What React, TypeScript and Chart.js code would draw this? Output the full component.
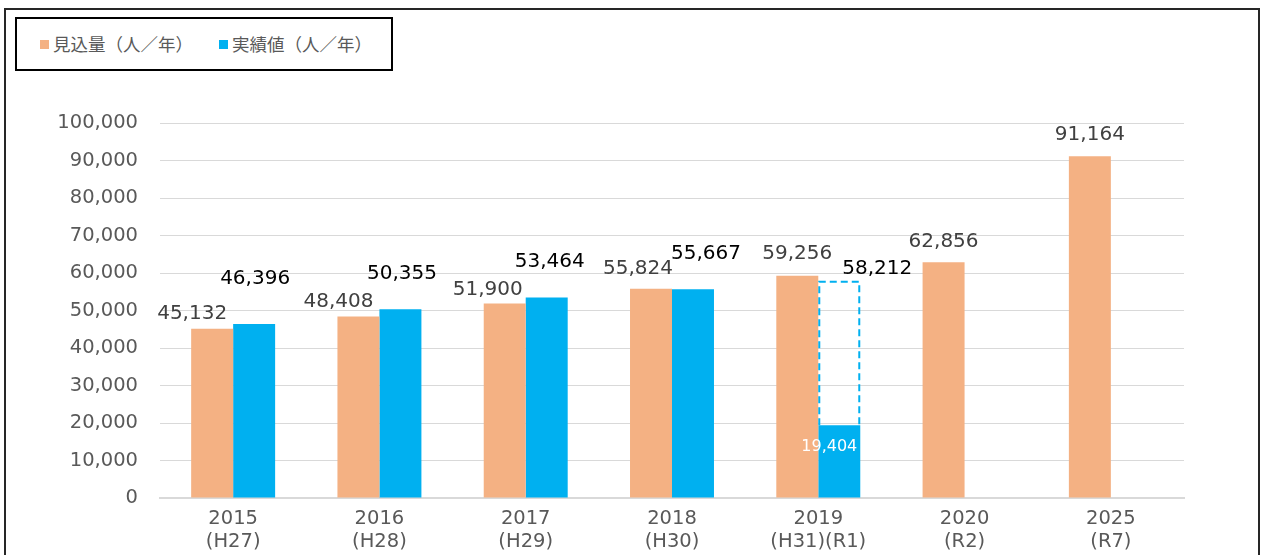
import React, { useEffect, useRef } from 'react';
import { Chart, registerables } from 'chart.js';

Chart.register(...registerables);

// ---- data ----
const yearLabels = ['2015', '2016', '2017', '2018', '2019', '2020', '2025'];
const eraLabels = ['(H27)', '(H28)', '(H29)', '(H30)', '(H31)(R1)', '(R2)', '(R7)'];
const seriesNames = ['見込量（人／年）', '実績値（人／年）'];
const plannedValues = [45132, 48408, 51900, 55824, 59256, 62856, 91164];
const actualValues: (number | null)[] = [46396, 50355, 53464, 55667, 19404, null, null];
const projectedIndex = 4; // 2019: full-year projection shown as dashed outline
const projectedValue = 58212;
const yMax = 100000;
const yStep = 10000;

// ---- styling / label placement (px) ----
const ORANGE = '#F4B183';
const BLUE = '#00B0F0';
const GRID = '#D9D9D9';
const TICK = '#595959';
const FONT = '"DejaVu Sans", "Noto Sans CJK JP", sans-serif';
const plannedNudge: [number, number][] = [
  [-20, -15], [-20, -15], [-17, -14], [-13, -20], [0, -22], [0, -20], [0, -21],
];
const actualNudge: ([number, number] | null)[] = [
  [1, -45], [1.5, -35], [3, -35.5], [13, -35], [-10, 22], null, null,
];
const projectedNudge: [number, number] = [38, -11];

const fmt = (v: number) => v.toLocaleString('en-US');

const overlayPlugin = {
  id: 'overlay',
  afterDatasetsDraw(chart: any) {
    const ctx: CanvasRenderingContext2D = chart.ctx;
    const yScale = chart.scales.y;
    const m0 = chart.getDatasetMeta(0);
    const m1 = chart.getDatasetMeta(1);
    ctx.save();

    // dashed outline for projected value
    const pe = m1.data[projectedIndex];
    if (pe) {
      const half = pe.width / 2;
      const l = pe.x - half + 1;
      const r = pe.x + half - 1;
      const t = yScale.getPixelForValue(projectedValue) + 2;
      const b = pe.y;
      ctx.strokeStyle = BLUE;
      ctx.lineWidth = 2;
      ctx.setLineDash([7, 4]);
      ctx.beginPath();
      ctx.moveTo(l, b);
      ctx.lineTo(l, t);
      ctx.lineTo(r, t);
      ctx.lineTo(r, b);
      ctx.stroke();
      ctx.setLineDash([]);
    }

    ctx.textAlign = 'center';
    ctx.textBaseline = 'middle';

    // planned labels
    ctx.font = `20px ${FONT}`;
    ctx.fillStyle = '#404040';
    m0.data.forEach((el: any, i: number) => {
      const v = plannedValues[i];
      if (v == null) return;
      const [dx, dy] = plannedNudge[i];
      ctx.fillText(fmt(v), el.x + dx, el.y + dy);
    });

    // actual labels
    m1.data.forEach((el: any, i: number) => {
      const v = actualValues[i];
      const n = actualNudge[i];
      if (v == null || !n) return;
      if (i === projectedIndex) {
        ctx.font = `16px ${FONT}`;
        ctx.fillStyle = '#FFFFFF';
      } else {
        ctx.font = `20px ${FONT}`;
        ctx.fillStyle = '#000000';
      }
      ctx.fillText(fmt(v), el.x + n[0], el.y + n[1]);
    });

    if (pe) {
      ctx.font = `20px ${FONT}`;
      ctx.fillStyle = '#000000';
      ctx.fillText(
        fmt(projectedValue),
        pe.x + projectedNudge[0],
        yScale.getPixelForValue(projectedValue) + projectedNudge[1]
      );
    }
    ctx.restore();
  },
};

export default function App() {
  const canvasRef = useRef<HTMLCanvasElement | null>(null);

  useEffect(() => {
    if (!canvasRef.current) return;
    const chart = new Chart(canvasRef.current, {
      type: 'bar',
      data: {
        labels: yearLabels.map((y, i) => [y, eraLabels[i]]),
        datasets: [
          {
            label: seriesNames[0],
            data: plannedValues,
            backgroundColor: ORANGE,
            borderWidth: 0,
            categoryPercentage: 0.574,
            barPercentage: 1,
          },
          {
            label: seriesNames[1],
            data: actualValues,
            backgroundColor: BLUE,
            borderWidth: 0,
            categoryPercentage: 0.574,
            barPercentage: 1,
          },
        ],
      },
      options: {
        responsive: false,
        animation: false,
        devicePixelRatio: 1,
        layout: { padding: { left: 0, top: 123, right: 77, bottom: 0 } },
        plugins: {
          legend: { display: false },
          tooltip: { enabled: false },
        },
        scales: {
          x: {
            grid: { display: false, drawTicks: false },
            border: { display: true, color: GRID, width: 2 },
            ticks: {
              color: TICK,
              font: { family: FONT, size: 19.5, lineHeight: 1.15 },
              padding: 10,
              maxRotation: 0,
              autoSkip: false,
            },
            afterFit: (s: any) => {
              s.height = 57;
            },
          },
          y: {
            min: 0,
            max: yMax,
            grid: { color: GRID, lineWidth: 1, drawTicks: false },
            border: { display: false },
            ticks: {
              stepSize: yStep,
              color: TICK,
              font: { family: FONT, size: 19.5 },
              padding: 22,
              callback: (v: any) => fmt(Number(v)),
            },
            afterFit: (s: any) => {
              s.width = 160;
            },
          },
        },
      },
      plugins: [overlayPlugin],
    } as any);
    return () => chart.destroy();
  }, []);

  return (
    <div
      style={{
        position: 'fixed',
        left: 0,
        top: 0,
        width: 1261,
        height: 555,
        overflow: 'hidden',
        background: '#FFFFFF',
      }}
    >
      <div
        style={{
          position: 'absolute',
          left: 4,
          top: 8,
          width: 1252,
          height: 600,
          border: '2px solid #262626',
          background: '#FFFFFF',
        }}
      />
      <canvas
        ref={canvasRef}
        width={1261}
        height={555}
        style={{ position: 'absolute', left: 0, top: 0, width: 1261, height: 555 }}
      />
      <div
        style={{
          position: 'absolute',
          left: 15,
          top: 17,
          width: 374,
          height: 50,
          border: '2px solid #000000',
          background: '#FFFFFF',
          fontFamily: '"Noto Sans CJK JP", sans-serif',
          fontSize: 17.5,
          color: TICK,
        }}
      >
        {seriesNames.map((name, i) => (
          <div
            key={name}
            style={{
              position: 'absolute',
              left: i === 0 ? 23 : 202,
              top: 13,
              height: 24,
              display: 'flex',
              alignItems: 'center',
              whiteSpace: 'nowrap',
            }}
          >
            <span
              style={{
                display: 'inline-block',
                width: 9,
                height: 9,
                background: i === 0 ? ORANGE : BLUE,
                marginRight: 4,
              }}
            />
            <span style={{ lineHeight: '24px' }}>{name}</span>
          </div>
        ))}
      </div>
    </div>
  );
}
